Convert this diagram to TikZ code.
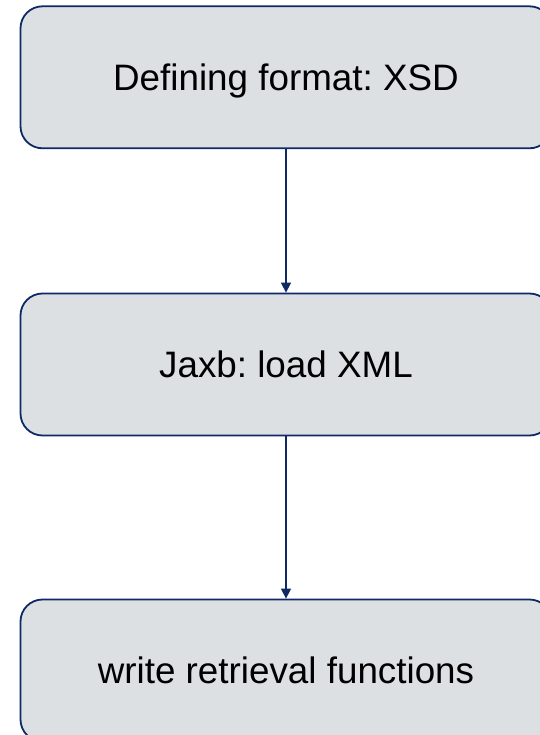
\documentclass[tikz,border=0pt]{standalone}
\usepackage{fontspec}
\setmainfont{Liberation Sans}
\usetikzlibrary{arrows.meta}
\frenchspacing
\definecolor{boxfill}{RGB}{220,224,227}
\definecolor{boxline}{RGB}{14,42,102}
\begin{document}
\begin{tikzpicture}[x=1pt,y=-1pt,
  stepbox/.style={draw=boxline, line width=1.8pt, fill=boxfill,
    rounded corners=22pt, minimum width=531pt, minimum height=142pt,
    inner sep=0pt, text=black, font=\fontsize{36.8}{44}\selectfont,
    text height=26.3pt, text depth=0pt},
  link/.style={draw=boxline, line width=1.5pt,
    -{Triangle[length=10pt,width=10pt]}}]
\useasboundingbox (0,0) rectangle (539,735);
% the three processing steps, top to bottom
\node[stepbox] (xsd)  at (286,77.3)  {Defining format: XSD};
\node[stepbox] (jaxb) at (286,364.5) {Jaxb: load XML};
\node[stepbox] (ret)  at (286,670.5) {write retrieval functions};
% flow between the steps
\draw[link] (xsd.south)  -- (jaxb.north);
\draw[link] (jaxb.south) -- (ret.north);
\end{tikzpicture}
\end{document}
